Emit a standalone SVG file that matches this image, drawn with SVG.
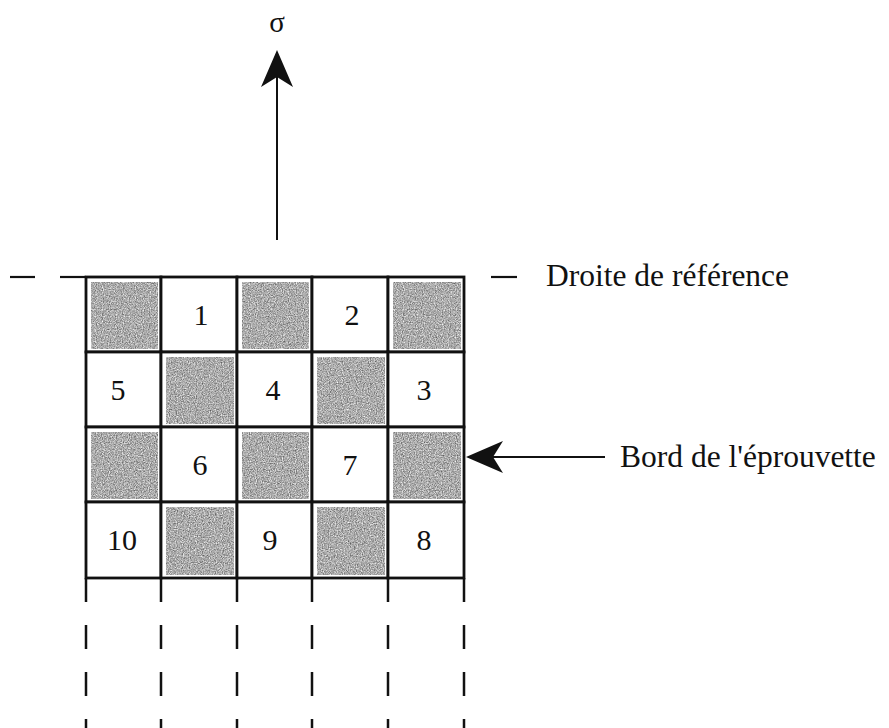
<svg xmlns="http://www.w3.org/2000/svg" width="889" height="728" viewBox="0 0 889 728">
  <style>
    .txt { font-family: "Liberation Serif", "Times New Roman", serif; fill: #111; }
    .num { font-size: 30px; text-anchor: middle; }
    .lbl { font-size: 31.5px; }
    .cell { fill: #fff; stroke: #111; stroke-width: 2.8; }
    .shade { fill: #a8a8a8; filter: url(#grain); }
    .ref { stroke: #111; stroke-width: 2.2; fill: none; }
    .guide { stroke: #111; stroke-width: 2.5; fill: none; stroke-dasharray: 24 23; }
    .conn { stroke: #111; stroke-width: 2; fill: none; marker-end: url(#head); }
  </style>
  <defs>
    <!-- grainy grey used for the shaded squares -->
    <filter id="grain" x="0" y="0" width="1" height="1" color-interpolation-filters="sRGB">
      <feTurbulence type="fractalNoise" baseFrequency="0.85" numOctaves="2" seed="4" result="n"/>
      <feColorMatrix in="n" type="matrix" values="0.8 0 0 0 0.27  0.8 0 0 0 0.27  0.8 0 0 0 0.27  0 0 0 0 1" result="g"/>
      <feComposite in="g" in2="SourceGraphic" operator="in"/>
    </filter>
    <!-- notched arrowhead -->
    <marker id="head" viewBox="-40 -20 42 40" markerWidth="42" markerHeight="40" refX="-20" refY="0" orient="auto" markerUnits="userSpaceOnUse">
      <path d="M0,0 L-37,-16 L-27,0 L-37,16 Z" fill="#111"/>
    </marker>
  </defs>

  <rect width="889" height="728" fill="#fff"/>

  <!-- reference line (dashed, outside the grid) -->
  <g id="reference-line">
    <line class="ref" x1="10" y1="277" x2="35" y2="277"/>
    <line class="ref" x1="60" y1="277" x2="86" y2="277"/>
    <line class="ref" x1="491" y1="277" x2="517" y2="277"/>
    <text class="txt lbl" x="546" y="286">Droite de référence</text>
  </g>

  <!-- squares: row 1 -->
  <g id="r1c1"><rect class="cell" x="86" y="277" width="75" height="75"/><rect class="shade" x="91" y="282" width="67" height="67"/></g>
  <g id="r1c2"><rect class="cell" x="161" y="277" width="76" height="75"/><text class="txt num" x="201" y="325">1</text></g>
  <g id="r1c3"><rect class="cell" x="237" y="277" width="75" height="75"/><rect class="shade" x="242" y="282" width="67" height="67"/></g>
  <g id="r1c4"><rect class="cell" x="312" y="277" width="76" height="75"/><text class="txt num" x="352" y="325">2</text></g>
  <g id="r1c5"><rect class="cell" x="388" y="277" width="76" height="75"/><rect class="shade" x="393" y="282" width="68" height="67"/></g>

  <!-- row 2 -->
  <g id="r2c1"><rect class="cell" x="86" y="352" width="75" height="75"/><text class="txt num" x="118" y="400">5</text></g>
  <g id="r2c2"><rect class="cell" x="161" y="352" width="76" height="75"/><rect class="shade" x="166" y="357" width="68" height="67"/></g>
  <g id="r2c3"><rect class="cell" x="237" y="352" width="75" height="75"/><text class="txt num" x="273" y="400">4</text></g>
  <g id="r2c4"><rect class="cell" x="312" y="352" width="76" height="75"/><rect class="shade" x="317" y="357" width="68" height="67"/></g>
  <g id="r2c5"><rect class="cell" x="388" y="352" width="76" height="75"/><text class="txt num" x="424" y="400">3</text></g>

  <!-- row 3 -->
  <g id="r3c1"><rect class="cell" x="86" y="427" width="75" height="75"/><rect class="shade" x="91" y="432" width="67" height="67"/></g>
  <g id="r3c2"><rect class="cell" x="161" y="427" width="76" height="75"/><text class="txt num" x="200" y="475">6</text></g>
  <g id="r3c3"><rect class="cell" x="237" y="427" width="75" height="75"/><rect class="shade" x="242" y="432" width="67" height="67"/></g>
  <g id="r3c4"><rect class="cell" x="312" y="427" width="76" height="75"/><text class="txt num" x="350" y="475">7</text></g>
  <g id="r3c5"><rect class="cell" x="388" y="427" width="76" height="75"/><rect class="shade" x="393" y="432" width="68" height="67"/></g>

  <!-- row 4 -->
  <g id="r4c1"><rect class="cell" x="86" y="502" width="75" height="76"/><text class="txt num" x="122" y="550">10</text></g>
  <g id="r4c2"><rect class="cell" x="161" y="502" width="76" height="76"/><rect class="shade" x="166" y="507" width="68" height="68"/></g>
  <g id="r4c3"><rect class="cell" x="237" y="502" width="75" height="76"/><text class="txt num" x="270" y="550">9</text></g>
  <g id="r4c4"><rect class="cell" x="312" y="502" width="76" height="76"/><rect class="shade" x="317" y="507" width="68" height="68"/></g>
  <g id="r4c5"><rect class="cell" x="388" y="502" width="76" height="76"/><text class="txt num" x="424" y="550">8</text></g>

  <!-- continuation of the column lines below the grid -->
  <g id="column-guides">
    <line class="guide" x1="86" y1="578" x2="86" y2="728"/>
    <line class="guide" x1="161" y1="578" x2="161" y2="728"/>
    <line class="guide" x1="237" y1="578" x2="237" y2="728"/>
    <line class="guide" x1="312" y1="578" x2="312" y2="728"/>
    <line class="guide" x1="388" y1="578" x2="388" y2="728"/>
    <line class="guide" x1="464" y1="578" x2="464" y2="728"/>
  </g>

  <!-- arrows -->
  <g id="connectors">
    <line class="conn" x1="277" y1="240" x2="277" y2="70"/>
    <line class="conn" x1="605" y1="457" x2="486" y2="457"/>
  </g>

  <g id="sigma-label">
    <text class="txt" x="277" y="32" font-size="29" text-anchor="middle">σ</text>
  </g>
  <g id="edge-label">
    <text class="txt lbl" x="620" y="467">Bord de l'éprouvette</text>
  </g>
</svg>
